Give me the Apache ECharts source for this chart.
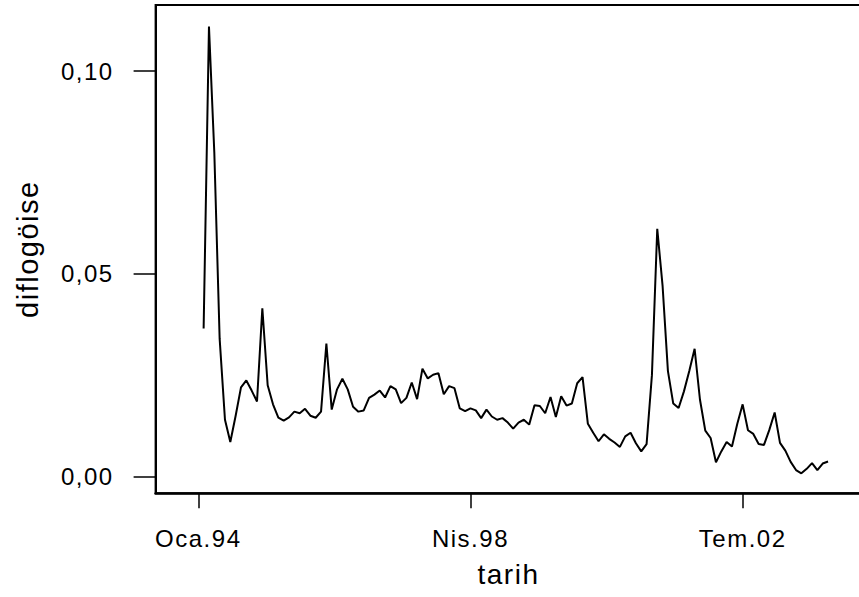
<!DOCTYPE html>
<html>
<head>
<meta charset="utf-8">
<script src="https://cdn.jsdelivr.net/npm/echarts@6/dist/echarts.min.js"></script>
<style>
html,body{margin:0;padding:0;background:#fff;overflow:hidden;}
#chart{width:882px;height:597px;}
#chart text{letter-spacing:1.5px;}
</style>
</head>
<body>
<div id="chart"></div>
<script>
// Turkish month abbreviations used for the category labels
const monthNames = ['Oca','Şub','Mar','Nis','May','Haz','Tem','Ağu','Eyl','Eki','Kas','Ara'];
// Axis span in months relative to Jan 1994 (axis starts before data and runs past the right edge)
const axisStartOffset = -8;
const axisEndOffset = 128;
// First observation: Feb 1994 (offset 1)
const dataStartOffset = 1;
// Tick labels shown on the x axis
const tickLabels = ['Oca.94', 'Nis.98', 'Tem.02'];
// Y axis tick values
const yTicks = [0, 0.05, 0.10];
const yMin = -0.00414;
const yMax = 0.1163;

// diflogöise monthly values, Feb 1994 .. Nov 2003
const values = [
  0.0365, 0.111, 0.080, 0.034, 0.014, 0.0085, 0.015, 0.022, 0.0237, 0.0212,
  0.0185, 0.0415, 0.0225, 0.0178, 0.0145, 0.0138, 0.0146, 0.016, 0.0156, 0.0167,
  0.015, 0.0145, 0.016, 0.0328, 0.0165, 0.0215, 0.0241, 0.0215, 0.0172, 0.016,
  0.0163, 0.0194, 0.0202, 0.0212, 0.0195, 0.0223, 0.0215, 0.0181, 0.0194, 0.0232,
  0.0191, 0.0266, 0.0242, 0.0251, 0.0255, 0.0203, 0.0223, 0.0218, 0.0168, 0.0161,
  0.0168, 0.0163, 0.0144, 0.0165, 0.0148, 0.014, 0.0144, 0.0133, 0.0118, 0.0133,
  0.014, 0.0128, 0.0176, 0.0174, 0.0156, 0.0196, 0.0147, 0.0198, 0.0175, 0.018,
  0.023, 0.0245, 0.013, 0.0108, 0.0087, 0.0104, 0.0093, 0.0084, 0.0073, 0.0099,
  0.0108, 0.0082, 0.0062, 0.008, 0.025, 0.0611, 0.047, 0.026, 0.018, 0.0169,
  0.021, 0.026, 0.0315, 0.019, 0.0113, 0.0095, 0.0035, 0.0062, 0.0085, 0.0074,
  0.013, 0.0178, 0.0114, 0.0105, 0.008, 0.0078, 0.0115, 0.0158, 0.0083, 0.0064,
  0.0036, 0.0016, 0.0008, 0.0019, 0.0033, 0.0016, 0.0032, 0.0037
];

// Build month categories
const categories = [];
for (let m = axisStartOffset; m <= axisEndOffset; m++) {
  const y = 1994 + Math.floor(m / 12);
  const mi = ((m % 12) + 12) % 12;
  categories.push(monthNames[mi] + '.' + String(y % 100).padStart(2, '0'));
}
// Align values to categories
const seriesData = categories.map((c, i) => {
  const k = i + axisStartOffset - dataStartOffset;
  return (k >= 0 && k < values.length) ? values[k] : null;
});

const showTick = (index, value) => tickLabels.indexOf(categories[index]) >= 0;
const font = 'Liberation Sans, Arial, sans-serif';

const chart = echarts.init(document.getElementById('chart'), null, {renderer: 'svg'});
chart.setOption({
  animation: false,
  backgroundColor: '#fff',
  grid: {
    left: 155.6, right: 0.6, top: 5, bottom: 103.7,
    show: true, borderColor: '#000', borderWidth: 2,
    containLabel: false
  },
  xAxis: {
    type: 'category',
    data: categories,
    boundaryGap: false,
    axisLine: {onZero: false, lineStyle: {color: '#000', width: 2.5}},
    axisTick: {show: true, interval: showTick, length: 15, lineStyle: {color: '#000', width: 1.5}},
    axisLabel: {interval: showTick, color: '#000', fontSize: 24, fontFamily: font, margin: 33},
    splitLine: {show: false},
    name: 'tarih',
    nameLocation: 'middle',
    nameGap: 67,
    nameTextStyle: {color: '#000', fontSize: 28, fontFamily: font, padding: [0, 20, 0, 0]}
  },
  yAxis: {
    type: 'value',
    min: yMin,
    max: yMax,
    axisLine: {show: true, lineStyle: {color: '#000', width: 2}},
    axisTick: {show: true, length: 22, customValues: yTicks, lineStyle: {color: '#000', width: 1.5}},
    axisLabel: {
      customValues: yTicks,
      color: '#000', fontSize: 24, fontFamily: font, margin: 42,
      formatter: v => v.toFixed(2).replace('.', ',')
    },
    splitLine: {show: false},
    name: 'diflogöise',
    nameLocation: 'middle',
    nameGap: 113,
    nameTextStyle: {color: '#000', fontSize: 29, fontFamily: font}
  },
  series: [{
    type: 'line',
    data: seriesData,
    showSymbol: false,
    connectNulls: false,
    lineStyle: {color: '#000', width: 2},
    emphasis: {disabled: true}
  }]
});
</script>
</body>
</html>
